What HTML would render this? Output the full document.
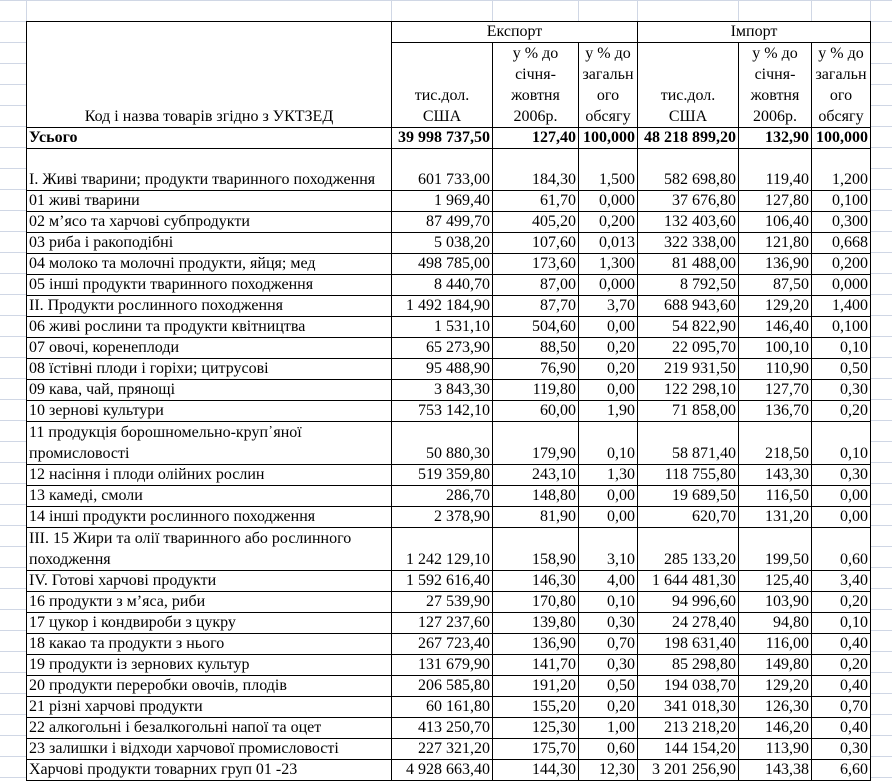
<!DOCTYPE html>
<html><head><meta charset="utf-8">
<style>
html,body{margin:0;padding:0;}
body{width:892px;height:778px;overflow:hidden;background:#fff;position:relative;
background-image:
linear-gradient(to bottom,#d0d7e5 1px,transparent 1px),
linear-gradient(to right,transparent 26px,#d0d7e5 26px,#d0d7e5 27px,transparent 27px,transparent 391px,#d0d7e5 391px,#d0d7e5 392px,transparent 392px,transparent 492px,#d0d7e5 492px,#d0d7e5 493px,transparent 493px,transparent 578px,#d0d7e5 578px,#d0d7e5 579px,transparent 579px,transparent 637px,#d0d7e5 637px,#d0d7e5 638px,transparent 638px,transparent 738px,#d0d7e5 738px,#d0d7e5 739px,transparent 739px,transparent 811px,#d0d7e5 811px,#d0d7e5 812px,transparent 812px,transparent 870px,#d0d7e5 870px,#d0d7e5 871px,transparent 871px);
background-size:892px 21px,892px 778px;background-repeat:repeat,no-repeat;}
table{position:absolute;left:26px;top:21px;border-collapse:collapse;table-layout:fixed;background:#fff;
font-family:"Liberation Serif",serif;font-size:16px;color:#000;}
td{border:1px solid #000;padding:0 2px 0 2px;line-height:20px;height:20px;vertical-align:bottom;text-align:right;white-space:nowrap;overflow:hidden;}
td.l{text-align:left;white-space:normal;}
td.c{text-align:center;}
tr.b td{font-weight:bold;}
tr.h2 td{height:83px;}
tr.h2 td.c{line-height:21px;}
tr.t td{height:41px;}
tr.t td.l{line-height:21px;}
</style></head><body>
<table>
<colgroup><col style="width:365px"><col style="width:101px"><col style="width:86px"><col style="width:59px"><col style="width:101px"><col style="width:73px"><col style="width:59px"></colgroup>
<tr><td class="c" rowspan="2" style="vertical-align:bottom">Код і назва товарів згідно з УКТЗЕД</td><td class="c" colspan="3">Експорт</td><td class="c" colspan="3">Імпорт</td></tr>
<tr class="h2"><td class="c">тис.дол.<br>США</td><td class="c">у % до<br>січня-<br>жовтня<br>2006р.</td><td class="c">у % до<br>загальн<br>ого<br>обсягу</td><td class="c">тис.дол.<br>США</td><td class="c">у % до<br>січня-<br>жовтня<br>2006р.</td><td class="c">у % до<br>загальн<br>ого<br>обсягу</td></tr>
<tr class="b"><td class="l">Усього</td><td>39 998 737,50</td><td>127,40</td><td>100,000</td><td>48 218 899,20</td><td>132,90</td><td>100,000</td></tr>
<tr class="t"><td class="l">I. Живі тварини; продукти тваринного походження</td><td>601 733,00</td><td>184,30</td><td>1,500</td><td>582 698,80</td><td>119,40</td><td>1,200</td></tr>
<tr><td class="l">01 живі тварини</td><td>1 969,40</td><td>61,70</td><td>0,000</td><td>37 676,80</td><td>127,80</td><td>0,100</td></tr>
<tr><td class="l">02 м’ясо та харчові субпродукти</td><td>87 499,70</td><td>405,20</td><td>0,200</td><td>132 403,60</td><td>106,40</td><td>0,300</td></tr>
<tr><td class="l">03 риба і ракоподібні</td><td>5 038,20</td><td>107,60</td><td>0,013</td><td>322 338,00</td><td>121,80</td><td>0,668</td></tr>
<tr><td class="l">04 молоко та молочні продукти, яйця; мед</td><td>498 785,00</td><td>173,60</td><td>1,300</td><td>81 488,00</td><td>136,90</td><td>0,200</td></tr>
<tr><td class="l">05 інші продукти тваринного походження</td><td>8 440,70</td><td>87,00</td><td>0,000</td><td>8 792,50</td><td>87,50</td><td>0,000</td></tr>
<tr><td class="l">II. Продукти рослинного походження</td><td>1 492 184,90</td><td>87,70</td><td>3,70</td><td>688 943,60</td><td>129,20</td><td>1,400</td></tr>
<tr><td class="l">06 живі рослини та продукти квітництва</td><td>1 531,10</td><td>504,60</td><td>0,00</td><td>54 822,90</td><td>146,40</td><td>0,100</td></tr>
<tr><td class="l">07 овочі, коренеплоди</td><td>65 273,90</td><td>88,50</td><td>0,20</td><td>22 095,70</td><td>100,10</td><td>0,10</td></tr>
<tr><td class="l">08 їстівні плоди і горіхи; цитрусові</td><td>95 488,90</td><td>76,90</td><td>0,20</td><td>219 931,50</td><td>110,90</td><td>0,50</td></tr>
<tr><td class="l">09 кава, чай, прянощі</td><td>3 843,30</td><td>119,80</td><td>0,00</td><td>122 298,10</td><td>127,70</td><td>0,30</td></tr>
<tr><td class="l">10 зернові культури</td><td>753 142,10</td><td>60,00</td><td>1,90</td><td>71 858,00</td><td>136,70</td><td>0,20</td></tr>
<tr class="t"><td class="l">11 продукція борошномельно-круп᾽яної промисловості</td><td>50 880,30</td><td>179,90</td><td>0,10</td><td>58 871,40</td><td>218,50</td><td>0,10</td></tr>
<tr><td class="l">12 насіння і плоди олійних рослин</td><td>519 359,80</td><td>243,10</td><td>1,30</td><td>118 755,80</td><td>143,30</td><td>0,30</td></tr>
<tr><td class="l">13 камеді, смоли</td><td>286,70</td><td>148,80</td><td>0,00</td><td>19 689,50</td><td>116,50</td><td>0,00</td></tr>
<tr><td class="l">14 інші продукти рослинного походження</td><td>2 378,90</td><td>81,90</td><td>0,00</td><td>620,70</td><td>131,20</td><td>0,00</td></tr>
<tr class="t"><td class="l">III. 15 Жири та олії тваринного або рослинного походження</td><td>1 242 129,10</td><td>158,90</td><td>3,10</td><td>285 133,20</td><td>199,50</td><td>0,60</td></tr>
<tr><td class="l">IV. Готові харчові продукти</td><td>1 592 616,40</td><td>146,30</td><td>4,00</td><td>1 644 481,30</td><td>125,40</td><td>3,40</td></tr>
<tr><td class="l">16 продукти з м’яса, риби</td><td>27 539,90</td><td>170,80</td><td>0,10</td><td>94 996,60</td><td>103,90</td><td>0,20</td></tr>
<tr><td class="l">17 цукор і кондвироби з цукру</td><td>127 237,60</td><td>139,80</td><td>0,30</td><td>24 278,40</td><td>94,80</td><td>0,10</td></tr>
<tr><td class="l">18 какао та продукти з нього</td><td>267 723,40</td><td>136,90</td><td>0,70</td><td>198 631,40</td><td>116,00</td><td>0,40</td></tr>
<tr><td class="l">19 продукти із зернових культур</td><td>131 679,90</td><td>141,70</td><td>0,30</td><td>85 298,80</td><td>149,80</td><td>0,20</td></tr>
<tr><td class="l">20 продукти переробки овочів, плодів</td><td>206 585,80</td><td>191,20</td><td>0,50</td><td>194 038,70</td><td>129,20</td><td>0,40</td></tr>
<tr><td class="l">21 різні харчові продукти</td><td>60 161,80</td><td>155,20</td><td>0,20</td><td>341 018,30</td><td>126,30</td><td>0,70</td></tr>
<tr><td class="l">22 алкогольні і безалкогольні напої та оцет</td><td>413 250,70</td><td>125,30</td><td>1,00</td><td>213 218,20</td><td>146,20</td><td>0,40</td></tr>
<tr><td class="l">23 залишки і відходи харчової промисловості</td><td>227 321,20</td><td>175,70</td><td>0,60</td><td>144 154,20</td><td>113,90</td><td>0,30</td></tr>
<tr><td class="l">Харчові продукти товарних груп 01 -23</td><td>4 928 663,40</td><td>144,30</td><td>12,30</td><td>3 201 256,90</td><td>143,38</td><td>6,60</td></tr>
</table>
</body></html>
